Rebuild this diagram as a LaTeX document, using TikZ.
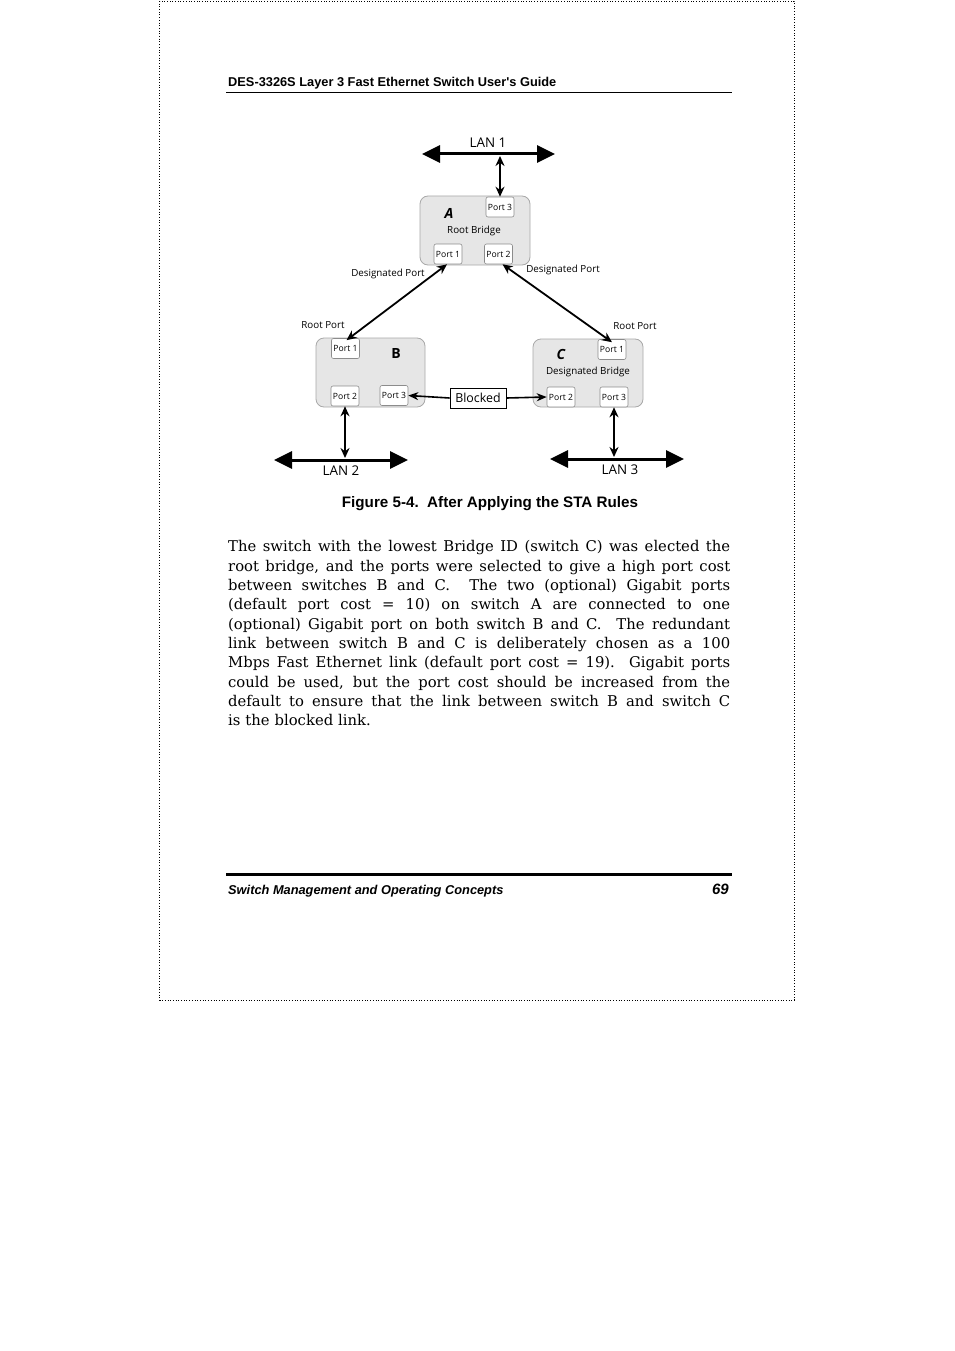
\documentclass[tikz,border=0pt]{standalone}
\usepackage{fontspec}
\setmainfont{DejaVu Serif}
\newfontfamily\headfont{Liberation Sans}
\newfontfamily\netfont{Open Sans}
\usetikzlibrary{arrows.meta, positioning}
\definecolor{swFill}{HTML}{E6E6E6}
\definecolor{swEdge}{HTML}{A8A8A8}
\definecolor{portEdge}{HTML}{8C8C8C}
% one justified line of the body text
\newcommand{\bodyline}[1]{\makebox[502pt][s]{\spaceskip=0.3em plus 1fil\relax #1}}
\tikzset{
  % page pixels as points, y runs downwards
  every picture/.append style = {x=1pt, y=-1pt},
  switchbox/.style = {rectangle, rounded corners=8pt, fill=swFill, draw=swEdge,
                      line width=0.8pt, minimum width=110pt, minimum height=69pt},
  portbox/.style   = {rectangle, rounded corners=2pt, fill=white, draw=portEdge,
                      line width=0.6pt, minimum width=28pt, minimum height=20pt,
                      inner sep=0pt, font=\netfont\fontsize{8.6}{9}\selectfont},
  blockbox/.style  = {rectangle, draw=black, fill=white, line width=0.9pt,
                      minimum width=56pt, minimum height=20pt, inner sep=0pt,
                      font=\netfont\fontsize{12.4}{13}\selectfont},
  lanline/.style   = {{Triangle[length=18pt,width=17pt]}-{Triangle[length=18pt,width=17pt]},
                      line width=3pt},
  tapline/.style   = {{Stealth[length=10pt,width=9pt]}-{Stealth[length=10pt,width=9pt]},
                      line width=2pt},
  linkline/.style  = {{Stealth[length=10pt,width=9pt]}-{Stealth[length=10pt,width=9pt]},
                      line width=1.8pt},
  blockline/.style = {-{Stealth[length=10pt,width=8pt]}, line width=1.6pt},
  lanlbl/.style    = {font=\netfont\fontsize{13.4}{14}\selectfont},
  plbl/.style      = {font=\netfont\fontsize{9.8}{10}\selectfont},
  idlbl/.style     = {font=\netfont\bfseries\itshape\fontsize{14}{15}\selectfont},
}

\begin{document}
\begin{tikzpicture}
  \useasboundingbox (0,0) rectangle (954,1351);
  % page frame, header and footer
  \draw[dotted, line width=0.7pt] (159.5,1) rectangle (794,1000);
  \node[anchor=base west, inner sep=0pt, font=\headfont\bfseries\fontsize{12.8}{13}\selectfont]
    (head) at (228,87) {DES-3326S Layer 3 Fast Ethernet Switch User's Guide};
  \draw[line width=0.8pt] (226,92) -- (732,92);
  \draw[line width=3pt] (226,874) -- (732,874);
  \node[anchor=base west, inner sep=0pt, font=\headfont\bfseries\itshape\fontsize{12.8}{13}\selectfont]
    (foot) at (228,894) {Switch Management and Operating Concepts};
  \node[anchor=base east, inner sep=0pt, font=\headfont\bfseries\itshape\fontsize{15}{16}\selectfont]
    (pagenum) at (729,894) {69};

  % switches
  \node[switchbox] (A) at (475,230.5) {};
  \node[switchbox, minimum width=109pt] (B) at (370.5,372.5) {};
  \node[switchbox, minimum height=68pt] (C) at (588,373) {};

  % ports
  \node[portbox] (A-p3) at (500,207) {Port 3};
  \node[portbox] (A-p1) at (448,254) {Port 1};
  \node[portbox] (A-p2) at (498.5,254) {Port 2};
  \node[portbox] (B-p1) at (345.5,348.5) {Port 1};
  \node[portbox] (B-p2) at (345,396) {Port 2};
  \node[portbox] (B-p3) at (394,395.5) {Port 3};
  \node[portbox] (C-p1) at (612,349.5) {Port 1};
  \node[portbox] (C-p2) at (561,397) {Port 2};
  \node[portbox] (C-p3) at (614,397) {Port 3};

  % switch names and roles
  \node[idlbl] (A-id) at (449,213) {A};
  \node[plbl] (A-role) at (474,231) {Root Bridge};
  \node[idlbl, font=\netfont\bfseries\fontsize{14}{15}\selectfont] (B-id) at (396,354) {B};
  \node[idlbl] (C-id) at (561,354) {C};
  \node[plbl] (C-role) at (588,372) {Designated Bridge};

  % LAN segments
  \coordinate (lan1-w) at (422,154);
  \coordinate (lan1-e) at (555,154);
  \coordinate (lan1-tap) at (500,156);
  \coordinate (lan2-w) at (274,460);
  \coordinate (lan2-e) at (408,460);
  \coordinate (lan2-tap) at (345,458);
  \coordinate (lan3-w) at (550,459);
  \coordinate (lan3-e) at (684,459);
  \coordinate (lan3-tap) at (614,457);
  \draw[lanline] (lan1-w) -- (lan1-e);
  \draw[lanline] (lan2-w) -- (lan2-e);
  \draw[lanline] (lan3-w) -- (lan3-e);
  \node[lanlbl] (lan1) at (488,143) {LAN 1};
  \node[lanlbl] (lan2) at (341,471) {LAN 2};
  \node[lanlbl] (lan3) at (620,470) {LAN 3};
  \draw[tapline] (lan1-tap) -- (A-p3.north);
  \draw[tapline] (B-p2.south) -- (lan2-tap);
  \draw[tapline] (C-p3.south) -- (lan3-tap);

  % links between the switches
  \draw[linkline] ([xshift=-1pt]A-p1.south) -- ([xshift=1pt,yshift=-2pt]B-p1.north);
  \draw[linkline] ([xshift=4pt]A-p2.south) -- ([yshift=-3pt]C-p1.north);
  \node[blockbox] (blk) at (478,398) {Blocked};
  \draw[blockline] (blk.west) -- (B-p3.east);
  \draw[blockline] (blk.east) -- (C-p2.west);

  % port roles
  \node[plbl] (A-desL) at (388,274) {Designated Port};
  \node[plbl] (A-desR) at (563,270) {Designated Port};
  \node[plbl] (B-root) at (323,325) {Root Port};
  \node[plbl] (C-root) at (635,326) {Root Port};

  % caption and text
  \node[font=\headfont\bfseries\fontsize{15.2}{16}\selectfont] (cap) at (490,504)
    {Figure 5-4.\ \ After Applying the STA Rules};
  \node[anchor=north west, inner sep=0pt, text width=502pt, align=left,
        font=\fontsize{14.8}{19.3}\selectfont] (body) at (228,540.5) {%
    \bodyline{The switch with the lowest Bridge ID (switch C) was elected the}\\
    \bodyline{root bridge, and the ports were selected to give a high port cost}\\
    \bodyline{between switches B and C.\ \ The two (optional) Gigabit ports}\\
    \bodyline{(default port cost = 10) on switch A are connected to one}\\
    \bodyline{(optional) Gigabit port on both switch B and C.\ \ The redundant}\\
    \bodyline{link between switch B and C is deliberately chosen as a 100}\\
    \bodyline{Mbps Fast Ethernet link (default port cost = 19).\ \ Gigabit ports}\\
    \bodyline{could be used, but the port cost should be increased from the}\\
    \bodyline{default to ensure that the link between switch B and switch C}\\
    \mbox{is the blocked link.}};
\end{tikzpicture}
\end{document}
